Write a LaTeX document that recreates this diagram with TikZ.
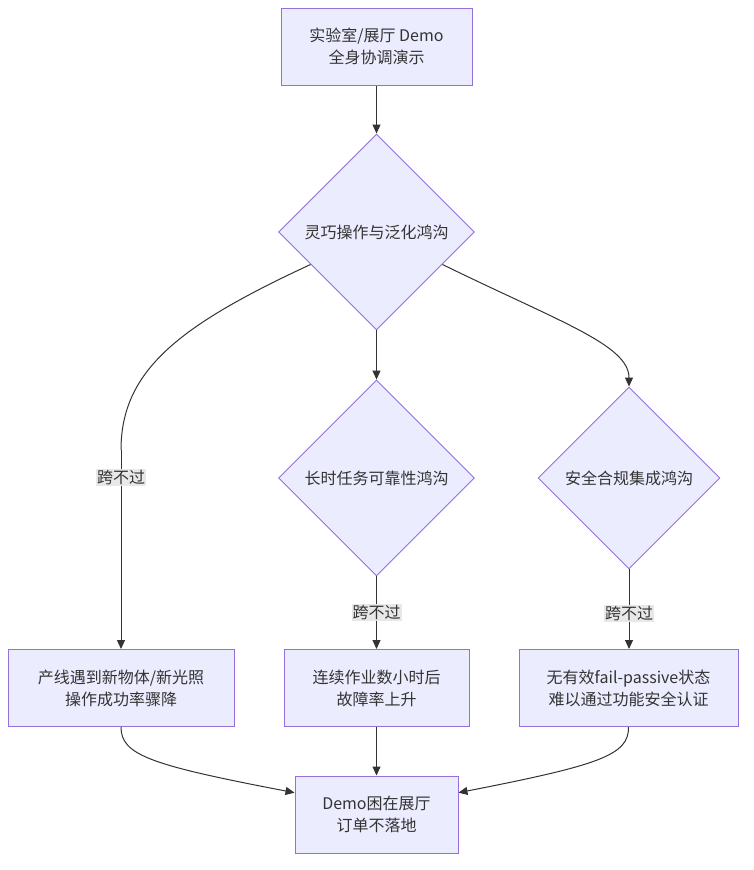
\documentclass[tikz,border=0pt]{standalone}
\usepackage{fontspec}
\setmainfont{Noto Sans CJK SC}
\usetikzlibrary{shapes.geometric,arrows.meta,calc}
\definecolor{nfill}{HTML}{ECECFF}
\definecolor{nline}{HTML}{9370DB}
\definecolor{eline}{HTML}{333333}
\definecolor{lbg}{HTML}{E8E8E8}
\begin{document}
\begin{tikzpicture}[x=1pt,y=-1pt,
  txt/.style={text=eline,font=\fontsize{16}{22}\selectfont},
  box/.style={txt,draw=nline,fill=nfill,line width=1pt,rectangle,minimum width=#1,minimum height=77pt,align=center,inner sep=0pt},
  dia/.style={txt,draw=nline,fill=nfill,line width=0.9pt,diamond,aspect=1,minimum width=#1,minimum height=#1,inner sep=0pt},
  conn/.style={draw=eline,line width=1pt,-{Triangle[length=9pt,width=8pt]}},
  elab/.style={txt,fill=lbg,inner xsep=1pt,inner ysep=1pt}]
\useasboundingbox[fill=white] (0,0) rectangle (754,870);
\node[box=191pt] (A) at (376.5,46.5) {实验室/展厅 Demo\\全身协调演示};
\node[dia=196pt] (D1) at (376.5,232) {灵巧操作与泛化鸿沟};
\node[dia=196pt] (D2) at (376.5,478) {长时任务可靠性鸿沟};
\node[dia=182pt] (D3) at (629,478) {安全合规集成鸿沟};
\node[box=226pt] (B1) at (121,688) {产线遇到新物体/新光照\\操作成功率骤降};
\node[box=185pt] (B2) at (376.5,688) {连续作业数小时后\\故障率上升};
\node[box=219pt] (B3) at (628.5,688) {无有效fail-passive状态\\难以通过功能安全认证};
\node[box=163pt] (E) at (376.5,814.5) {Demo困在展厅\\订单不落地};
\coordinate (L1) at (121,450);
\draw[conn] (A.south) -- (D1.north);
\draw[conn] (D1.south) -- (D2.north);
\draw[conn] ($(D1.east)!0.33!(D1.south)$) .. controls (560,322) and (629,345) .. (D3.north);
\draw[draw=eline,line width=1pt] ($(D1.west)!0.33!(D1.south)$) .. controls (180,325) and (121,370) .. (L1);
\draw[conn] (L1) -- node[elab,pos=0.14] {跨不过} (B1.north);
\draw[conn] (D2.south) -- node[elab] {跨不过} (B2.north);
\draw[conn] (D3.south) -- node[elab,pos=0.55] {跨不过} (D3.south |- B3.north);
\draw[conn] (B1.south) .. controls (121,755) and (150,765) .. ($(E.north west)!0.22!(E.south west)$);
\draw[conn] (B2.south) -- (E.north);
\draw[conn] (B3.south) .. controls (629,755) and (600,765) .. ($(E.north east)!0.22!(E.south east)$);
\end{tikzpicture}
\end{document}
